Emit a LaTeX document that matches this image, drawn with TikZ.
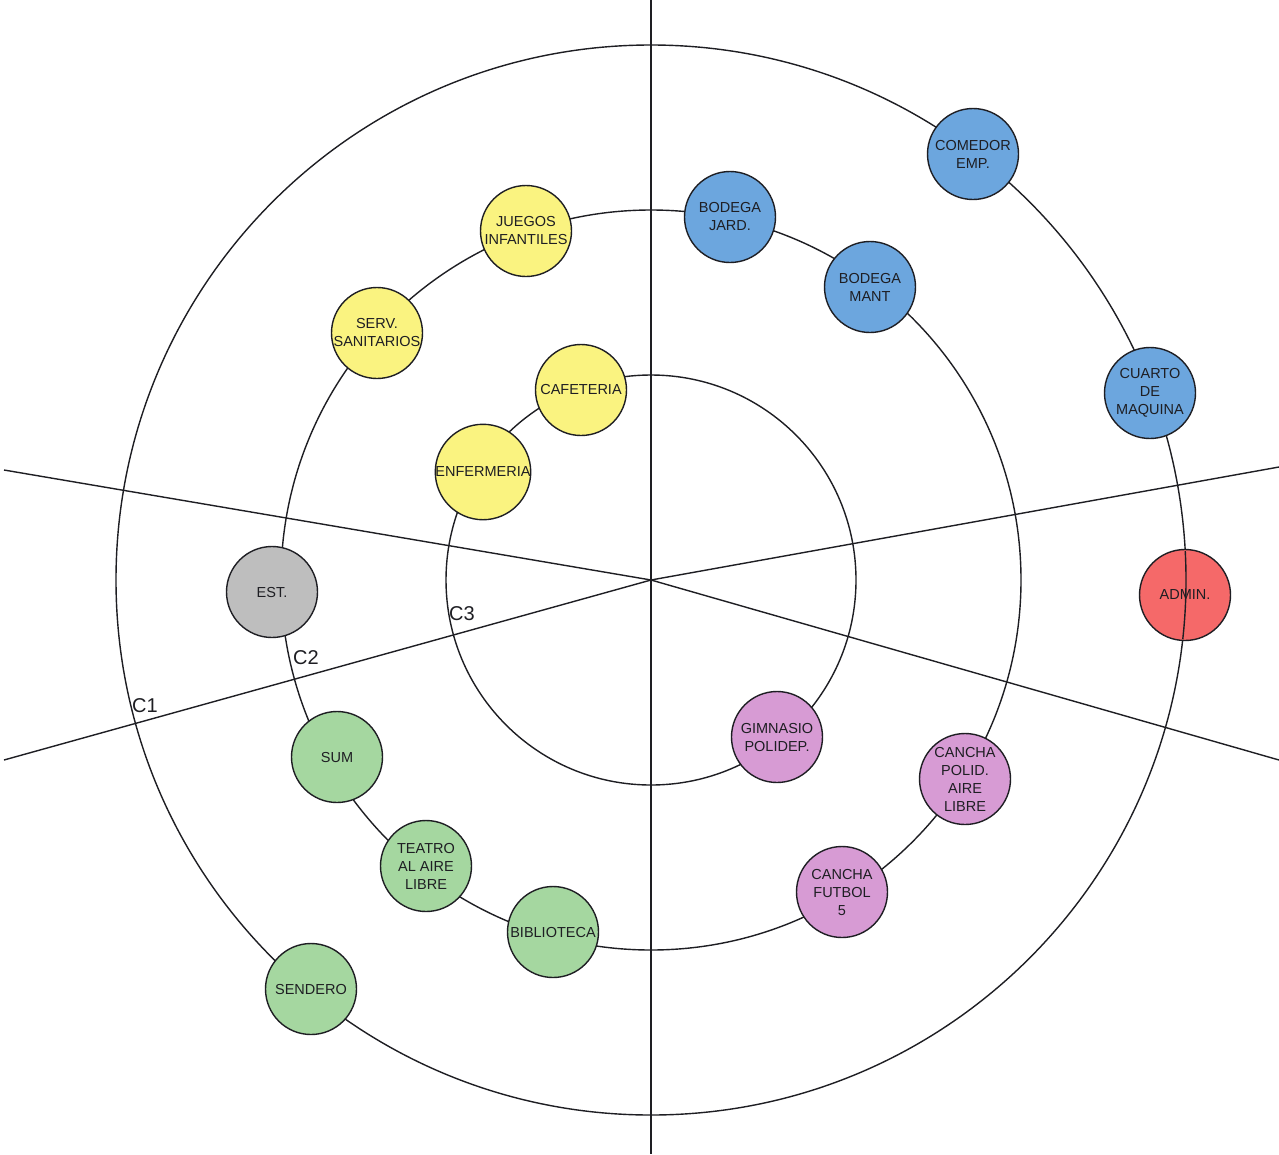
\documentclass[tikz,border=0pt]{standalone}
\usepackage{fontspec}
\setmainfont{Liberation Sans}
\definecolor{rblue}{RGB}{108,166,222}
\definecolor{ryellow}{RGB}{250,243,128}
\definecolor{rgray}{RGB}{190,190,190}
\definecolor{rred}{RGB}{245,105,105}
\definecolor{rgreen}{RGB}{165,215,160}
\definecolor{rpink}{RGB}{215,155,212}
\definecolor{ink}{RGB}{30,30,35}
\begin{document}
\begin{tikzpicture}[x=1pt,y=-1pt,
  room/.style={circle,draw=ink,line width=1.4pt,minimum size=91pt,inner sep=0pt,align=center,
    font=\fontsize{14.5}{18}\selectfont,text=ink},
  guide/.style={line width=1.4pt,draw=ink},
  clabel/.style={font=\fontsize{20}{20}\selectfont,inner sep=0pt,text=ink}]
\fill[white] (0,0) rectangle (1279,1154);
\useasboundingbox (0,0) rectangle (1279,1154);
\coordinate (O) at (651,580);
\coordinate (top) at (651,0);
\coordinate (bot) at (651,1154);
\coordinate (ul) at (4,470);
\coordinate (ur) at (1279,467);
\coordinate (ll) at (4,760);
\coordinate (lr) at (1279,760);
\draw[guide] (top) -- (bot);
\draw[guide] (O) -- (ul);
\draw[guide] (O) -- (ur);
\draw[guide] (O) -- (ll);
\draw[guide] (O) -- (lr);
\draw[guide] (O) circle[radius=535pt];
\draw[guide] (O) circle[radius=370pt];
\draw[guide] (O) circle[radius=205pt];
% C1 ring
\node[room,fill=rblue] (comedor) at (973,154) {COMEDOR\\EMP.};
\node[room,fill=rblue] (cuarto) at (1150,393) {CUARTO\\DE\\MAQUINA};
\node[room,fill=rred] (admin) at (1185,595) {ADMIN.};
\node[room,fill=rgreen] (sendero) at (311,989) {SENDERO};
% C2 ring
\node[room,fill=rblue] (bjard) at (730,217) {BODEGA\\JARD.};
\node[room,fill=rblue] (bmant) at (870,287) {BODEGA\\MANT};
\node[room,fill=ryellow] (juegos) at (526,231) {JUEGOS\\INFANTILES};
\node[room,fill=ryellow] (serv) at (377,333) {SERV.\\SANITARIOS};
\node[room,fill=rgray] (est) at (272,592) {EST.};
\node[room,fill=rgreen] (sum) at (337,757) {SUM};
\node[room,fill=rgreen] (teatro) at (426,866) {TEATRO\\AL AIRE\\LIBRE};
\node[room,fill=rgreen] (biblio) at (553,932) {BIBLIOTECA};
\node[room,fill=rpink] (futbol) at (842,892) {CANCHA\\FUTBOL\\5};
\node[room,fill=rpink] (cpolid) at (965,779) {CANCHA\\POLID.\\AIRE\\LIBRE};
% C3 ring
\node[room,fill=ryellow] (cafe) at (581,390) {CAFETERIA};
\node[room,fill=ryellow] (enfer) at (483,472) {ENFERMERIA};
\node[room,fill=rpink] (gimn) at (777,737) {GIMNASIO\\POLIDEP.};
% ring line crossing ADMIN
\begin{scope}
  \clip (admin.center) circle[radius=44pt];
  \draw[guide] (O) circle[radius=535pt];
\end{scope}
\node[clabel] (c1) at (145,706) {C1};
\node[clabel] (c2) at (306,658) {C2};
\node[clabel] (c3) at (462,614) {C3};
\end{tikzpicture}
\end{document}
